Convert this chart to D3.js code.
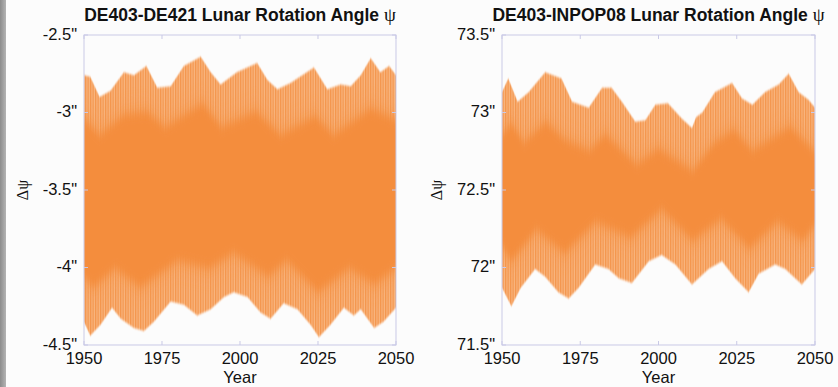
<!DOCTYPE html>
<html><head><meta charset="utf-8">
<script src="https://cdn.jsdelivr.net/npm/d3@7"></script>
<style>body{margin:0;background:#fcfcfc}svg{display:block}</style>
</head><body>
<svg id="c" width="838" height="387"></svg>
<script>
// ---- data ----
const xTicks = [1950, 1975, 2000, 2025, 2050];
const leftTicks = [-2.5, -3, -3.5, -4, -4.5];
const rightTicks = [73.5, 73, 72.5, 72, 71.5];
const titles = ["DE403-DE421 Lunar Rotation Angle ", "DE403-INPOP08 Lunar Rotation Angle "];

// outer envelope of the oscillation, left panel
const leftUpper = [[1950,-2.76],[1952,-2.77],[1955,-2.90],[1958.5,-2.86],[1962.8,-2.74],[1966,-2.76],[1970,-2.70],[1973.5,-2.84],[1977.8,-2.83],[1982,-2.70],[1987.4,-2.64],[1990.6,-2.74],[1993.8,-2.82],[1999,-2.74],[2005.5,-2.68],[2008.8,-2.79],[2012,-2.85],[2016.2,-2.81],[2023.7,-2.71],[2028,-2.85],[2032.3,-2.82],[2035.5,-2.83],[2038.7,-2.76],[2041.9,-2.65],[2045,-2.74],[2047.8,-2.70],[2050,-2.76]];
const leftLower = [[1950,-4.35],[1952,-4.44],[1955.3,-4.37],[1959,-4.26],[1961.8,-4.33],[1966,-4.39],[1969.2,-4.41],[1972.4,-4.35],[1977.8,-4.22],[1982,-4.24],[1986.3,-4.31],[1990.6,-4.27],[1994.9,-4.19],[1998,-4.16],[2002.4,-4.19],[2006.6,-4.29],[2009.8,-4.33],[2014,-4.23],[2018.4,-4.27],[2022.6,-4.37],[2025.3,-4.45],[2029,-4.37],[2033.3,-4.26],[2036.5,-4.31],[2038.7,-4.27],[2043,-4.39],[2046,-4.35],[2050,-4.26]];
// dense core, left panel
const leftCoreUpper = [[1950,-3.05],[1955,-3.15],[1963,-3.02],[1970,-3.0],[1976,-3.1],[1988,-2.95],[1994,-3.1],[2005,-3.0],[2013,-3.15],[2024,-3.03],[2030,-3.15],[2042,-2.98],[2050,-3.05]];
const leftCoreLower = [[1950,-4.05],[1953,-4.12],[1960,-4.0],[1968,-4.12],[1980,-3.95],[1990,-4.0],[1998,-3.9],[2009,-4.05],[2015,-3.95],[2025,-4.15],[2035,-4.0],[2043,-4.1],[2050,-4.0]];

// outer envelope, right panel
const rightUpper = [[1950,73.13],[1952,73.22],[1955,73.07],[1958.5,73.13],[1963.8,73.26],[1969,73.22],[1972.4,73.07],[1977.7,73.03],[1982,73.16],[1985,73.16],[1988.3,73.07],[1992.6,72.94],[1995.8,72.95],[1999,73.05],[2003,73.06],[2007.5,72.96],[2010.7,72.90],[2012,72.97],[2014,73.0],[2018,73.13],[2023.5,73.19],[2026.7,73.09],[2030,73.05],[2034,73.13],[2038.4,73.18],[2041.6,73.25],[2044.8,73.13],[2048,73.08],[2050,73.03]];
const rightLower = [[1950,71.87],[1953,71.75],[1956,71.87],[1960.6,71.99],[1963.8,71.94],[1968,71.84],[1971.3,71.80],[1974.5,71.87],[1979.8,72.02],[1984,71.99],[1987.3,71.93],[1991.5,71.90],[1996.9,72.04],[2001,72.08],[2005.4,72.02],[2010.7,71.89],[2016,71.99],[2020.3,72.04],[2024.5,71.93],[2028.8,71.84],[2032,71.96],[2037.3,72.02],[2040.5,71.99],[2045.8,71.89],[2050,71.99]];
const rightCoreUpper = [[1950,72.85],[1953,72.92],[1957,72.8],[1964,72.93],[1970,72.82],[1978,72.75],[1983,72.85],[1993,72.66],[2000,72.76],[2011,72.62],[2018,72.8],[2024,72.88],[2030,72.75],[2042,72.9],[2050,72.74]];
const rightCoreLower = [[1950,72.15],[1953,72.05],[1961,72.25],[1970,72.1],[1980,72.3],[1991,72.2],[2001,72.38],[2011,72.18],[2020,72.32],[2029,72.13],[2038,72.3],[2046,72.18],[2050,72.28]];

// ---- drawing ----
const svg = d3.select("#c");
const defs = svg.append("defs");
const g0 = defs.append("linearGradient").attr("id","strip").attr("x1",0).attr("x2",1);
g0.append("stop").attr("offset",0).attr("stop-color","#8c8c8c");
g0.append("stop").attr("offset",1).attr("stop-color","#b4b4b4");
svg.append("rect").attr("x",0).attr("y",0).attr("width",6).attr("height",387).attr("fill","url(#strip)");

const pat = defs.append("pattern").attr("id","stripes").attr("patternUnits","userSpaceOnUse")
  .attr("width",2.5).attr("height",6);
pat.append("rect").attr("width",2.5).attr("height",6).attr("fill","#f8b680");
pat.append("rect").attr("width",1.3).attr("height",6).attr("fill","#f4964e");
const addBlur = (id, sd) => defs.append("filter").attr("id", id).attr("x","-5%").attr("y","-30%")
  .attr("width","110%").attr("height","160%").append("feGaussianBlur").attr("stdDeviation", sd);
addBlur("blur", "0.8 5");
addBlur("blurWide", "1 12");
addBlur("soft", "0.6 0.8");

const font = "'Liberation Sans', Arial, Helvetica, sans-serif";

const panels = [
  {left:84, right:396, ticks:leftTicks, up:leftUpper, lo:leftLower, cu:leftCoreUpper, cl:leftCoreLower, yLab:22, title:titles[0]},
  {left:502, right:815, ticks:rightTicks, up:rightUpper, lo:rightLower, cu:rightCoreUpper, cl:rightCoreLower, yLab:436, title:titles[1]}
];
const plotTop = 35, plotBottom = 345;

panels.forEach((p, i) => {
  const x = d3.scaleLinear().domain([1950, 2050]).range([p.left, p.right]);
  const y = d3.scaleLinear().domain([p.ticks[4], p.ticks[0]]).range([plotBottom, plotTop]);
  const g = svg.append("g");
  const cid = "clip" + i;
  defs.append("clipPath").attr("id", cid).append("rect")
    .attr("x", p.left).attr("y", plotTop).attr("width", p.right - p.left).attr("height", plotBottom - plotTop);

  const line = d3.line().x(d => x(d[0])).y(d => y(d[1]));
  const band = (u, l) => line(u.concat(l.slice().reverse())) + "Z";

  const plot = g.append("g").attr("clip-path", `url(#${cid})`);
  plot.append("path").attr("d", band(p.up, p.lo)).attr("fill", "url(#stripes)").attr("filter", "url(#soft)");
  plot.append("path").attr("d", band(p.cu, p.cl)).attr("fill", "#f4913f").attr("opacity", 0.75).attr("filter", "url(#blurWide)");
  plot.append("path").attr("d", band(p.cu, p.cl)).attr("fill", "#f48d3e").attr("filter", "url(#blur)");

  // frame
  g.append("rect").attr("x", p.left).attr("y", plotTop).attr("width", p.right - p.left).attr("height", plotBottom - plotTop)
    .attr("fill", "none").attr("stroke", "#c9c9e6").attr("stroke-width", 1);

  // inward ticks
  const tk = g.append("g").attr("stroke", "#c9c9e6");
  xTicks.forEach(t => {
    tk.append("line").attr("x1", x(t)).attr("x2", x(t)).attr("y1", plotBottom).attr("y2", plotBottom - 4);
    tk.append("line").attr("x1", x(t)).attr("x2", x(t)).attr("y1", plotTop).attr("y2", plotTop + 4);
  });
  p.ticks.forEach(t => {
    tk.append("line").attr("x1", p.left).attr("x2", p.left + 4).attr("y1", y(t)).attr("y2", y(t));
    tk.append("line").attr("x1", p.right).attr("x2", p.right - 4).attr("y1", y(t)).attr("y2", y(t));
  });

  // tick labels
  p.ticks.forEach(t => {
    g.append("text").attr("x", p.left - 7).attr("y", y(t)).attr("dy", "0.3em")
      .attr("text-anchor", "end").attr("font-family", font).attr("font-size", 16.5).attr("fill", "#111")
      .text(t + '"');
  });
  xTicks.forEach(t => {
    g.append("text").attr("x", x(t)).attr("y", 364).attr("text-anchor", "middle")
      .attr("font-family", font).attr("font-size", 16.5).attr("fill", "#111").text(t);
  });
  g.append("text").attr("x", (p.left + p.right) / 2).attr("y", 383).attr("text-anchor", "middle")
    .attr("font-family", font).attr("font-size", 16.5).attr("fill", "#111").text("Year");

  // y label
  g.append("text").attr("transform", `translate(${p.yLab},${y(p.ticks[2])}) rotate(-90)`)
    .attr("dy", "0.36em").attr("text-anchor", "middle").attr("font-family", "'Liberation Serif', 'DejaVu Serif', serif")
    .attr("font-size", 16).attr("fill", "#111").text("Δψ");

  // title
  const tt = g.append("text").attr("x", (p.left + p.right) / 2).attr("y", 21).attr("text-anchor", "middle")
    .attr("font-family", font).attr("font-size", 17.5).attr("font-weight", "bold").attr("fill", "#111");
  tt.append("tspan").text(p.title);
  tt.append("tspan").attr("font-family", "'Liberation Serif', 'DejaVu Serif', serif").attr("font-weight", "normal").attr("font-size", 19).text("ψ");
});
</script>
</body></html>
